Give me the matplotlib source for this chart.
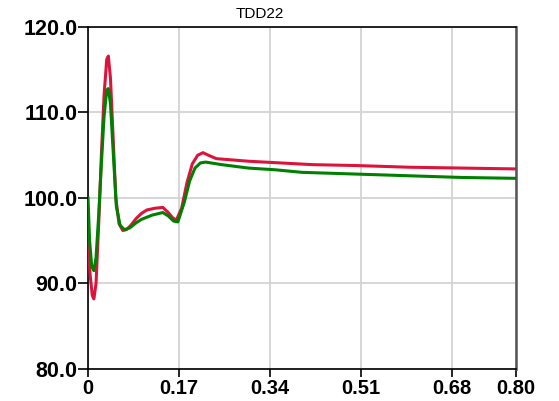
import numpy as np
import matplotlib
matplotlib.use("Agg")
import matplotlib.pyplot as plt

# time axis and two traces
t_red = [0, 0.004, 0.008, 0.011, 0.015, 0.02, 0.025, 0.03, 0.035, 0.038, 0.042, 0.047,
         0.052, 0.058, 0.065, 0.072, 0.08, 0.09, 0.1, 0.11, 0.125, 0.14, 0.15, 0.158,
         0.165, 0.175, 0.185, 0.195, 0.205, 0.215, 0.225, 0.24, 0.3, 0.36, 0.42, 0.5,
         0.6, 0.7, 0.8]
red = [95.0, 91.0, 88.6, 88.2, 90.0, 97.0, 105.0, 112.0, 116.2, 116.6, 114.0, 107.0,
       100.0, 97.0, 96.2, 96.3, 96.8, 97.6, 98.2, 98.6, 98.8, 98.9, 98.3, 97.7,
       97.4, 98.8, 101.8, 104.0, 105.0, 105.3, 105.0, 104.6, 104.3, 104.1, 103.9, 103.8,
       103.6, 103.5, 103.4]

t_grn = [0, 0.003, 0.007, 0.011, 0.015, 0.02, 0.025, 0.03, 0.035, 0.038, 0.042, 0.047,
         0.053, 0.06, 0.068, 0.078, 0.09, 0.1, 0.12, 0.14, 0.15, 0.16, 0.168, 0.18,
         0.19, 0.2, 0.21, 0.22, 0.25, 0.3, 0.35, 0.4, 0.5, 0.6, 0.7, 0.8]
grn = [100.0, 95.0, 92.0, 91.5, 93.0, 98.0, 104.0, 109.5, 112.6, 112.8, 111.0, 105.5,
       99.0, 96.8, 96.3, 96.5, 97.1, 97.5, 98.0, 98.3, 97.9, 97.3, 97.2, 99.5,
       102.0, 103.5, 104.1, 104.2, 103.9, 103.5, 103.3, 103.0, 102.8, 102.6, 102.4, 102.3]

xticks = [0, 0.17, 0.34, 0.51, 0.68, 0.80]
xlabels = ["0", "0.17", "0.34", "0.51", "0.68", "0.80"]
yticks = [80, 90, 100, 110, 120]
ylabels = ["80.0", "90.0", "100.0", "110.0", "120.0"]

plt.rcParams['font.family'] = ['Liberation Sans', 'DejaVu Sans']

fig = plt.figure(figsize=(5.59, 4.01), dpi=100)
ax = fig.add_axes([88/559, 1-369/401, (516-88)/559, (369-27)/401])

ax.plot(t_red, red, color='#dc143c', lw=2.2, zorder=3)
ax.plot(t_grn, grn, color='#008000', lw=2.2, zorder=4)

ax.set_xlim(0, 0.8)
ax.set_ylim(80, 120)
ax.set_xticks(xticks)
ax.set_xticklabels(xlabels, fontsize=14.5, fontweight='bold')
ax.set_yticks(yticks)
ax.set_yticklabels(ylabels, fontsize=15.5, fontweight='bold')
ax.tick_params(axis='both', direction='out', length=7, width=1.2, colors='black')
ax.tick_params(axis='y', pad=0.5)
ax.tick_params(axis='x', length=6, pad=1)
ax.grid(True, color='#d3d3d3', lw=1.3)
ax.set_axisbelow(True)

for s in ['left', 'bottom', 'top']:
    ax.spines[s].set_color('black')
    ax.spines[s].set_linewidth(1.2)
ax.spines['right'].set_color('#555555')
ax.spines['right'].set_linewidth(1.8)

fig.text(260/559, 1-14/401, "TDD22", fontsize=11, ha='center', va='center')

fig.savefig("out.png", dpi=100)
